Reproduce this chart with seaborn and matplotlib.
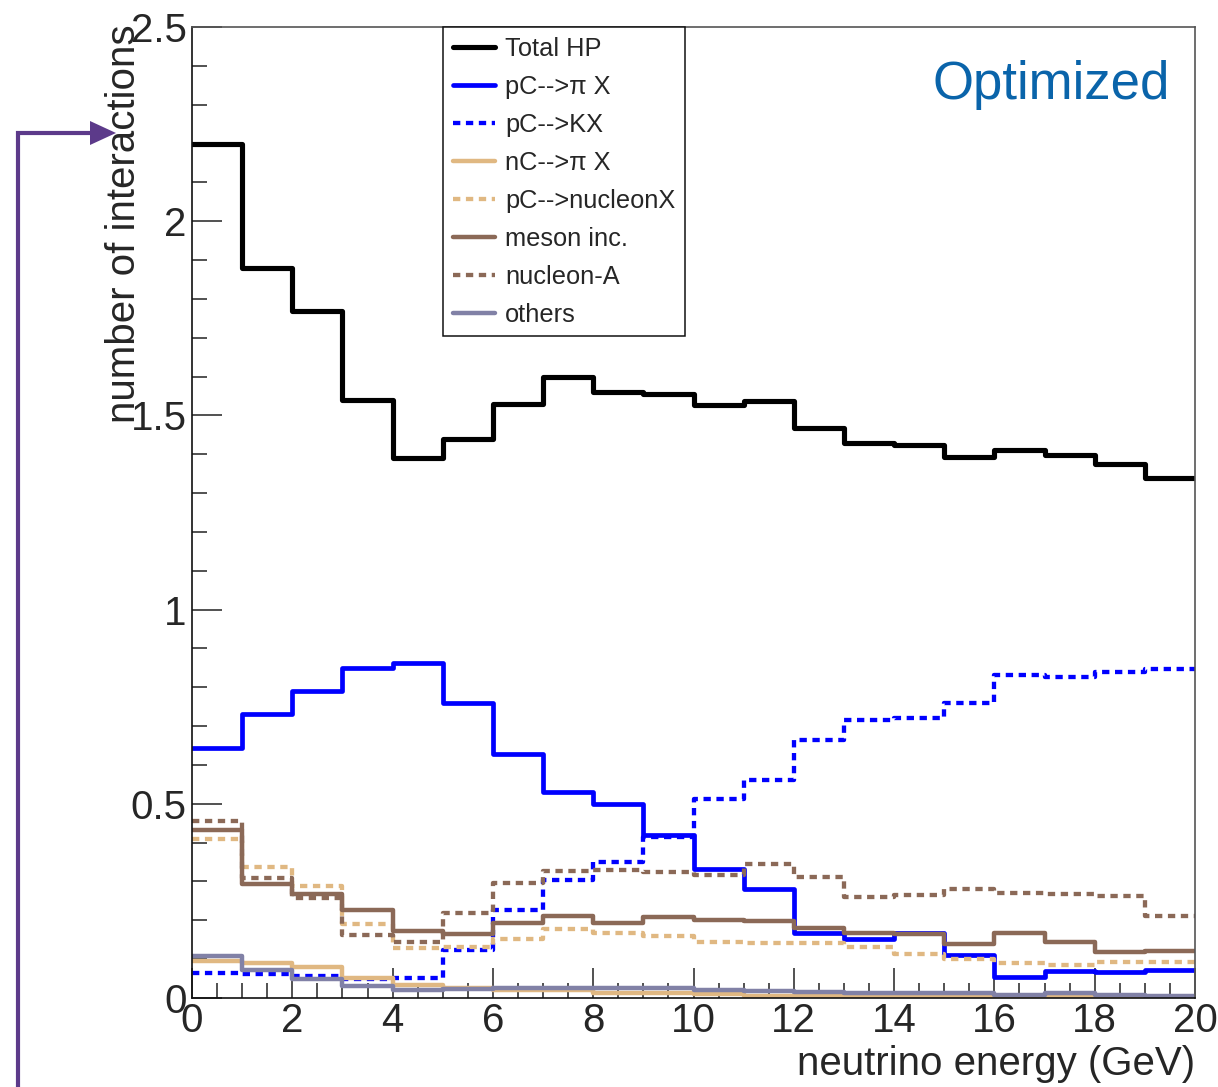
import numpy as np
import pandas as pd
import matplotlib
matplotlib.use("Agg")
import matplotlib.pyplot as plt
from matplotlib.lines import Line2D
from matplotlib.patches import Polygon
from matplotlib.ticker import MultipleLocator
import seaborn as sns

# ---------------- data ----------------
bin_edges = np.arange(0, 21, 1)          # neutrino energy bins (GeV)
series_names = ["Total HP", "pC-->\u03c0 X", "pC-->KX", "nC-->\u03c0 X",
                "pC-->nucleonX", "meson inc.", "nucleon-A", "others"]

total_hp = [2.20, 1.88, 1.77, 1.54, 1.39, 1.44, 1.53, 1.60, 1.56, 1.555,
            1.526, 1.538, 1.467, 1.430, 1.425, 1.392, 1.412, 1.397, 1.374, 1.338]
pc_pi = [0.643, 0.731, 0.790, 0.849, 0.862, 0.759, 0.628, 0.530, 0.499, 0.420,
         0.332, 0.281, 0.167, 0.152, 0.167, 0.111, 0.054, 0.069, 0.067, 0.072]
pc_k = [0.064, 0.062, 0.057, 0.049, 0.051, 0.123, 0.226, 0.304, 0.350, 0.415,
        0.512, 0.561, 0.664, 0.715, 0.720, 0.759, 0.831, 0.826, 0.839, 0.846]
nc_pi = [0.095, 0.090, 0.080, 0.052, 0.033, 0.026, 0.021, 0.021, 0.013, 0.012,
         0.010, 0.006, 0.005, 0.005, 0.004, 0.004, 0.003, 0.003, 0.003, 0.003]
pc_nucleon = [0.409, 0.337, 0.288, 0.190, 0.129, 0.131, 0.152, 0.177, 0.167, 0.160,
              0.144, 0.142, 0.141, 0.132, 0.113, 0.100, 0.090, 0.085, 0.093, 0.093]
meson_inc = [0.432, 0.293, 0.268, 0.226, 0.172, 0.164, 0.192, 0.211, 0.193, 0.209,
             0.202, 0.199, 0.179, 0.168, 0.164, 0.139, 0.168, 0.144, 0.119, 0.121]
nucleon_a = [0.456, 0.310, 0.257, 0.162, 0.145, 0.219, 0.295, 0.327, 0.329, 0.325,
             0.316, 0.345, 0.311, 0.260, 0.265, 0.281, 0.270, 0.267, 0.262, 0.211]
others = [0.108, 0.072, 0.049, 0.031, 0.021, 0.023, 0.026, 0.026, 0.026, 0.025,
          0.021, 0.019, 0.016, 0.013, 0.013, 0.013, 0.008, 0.012, 0.008, 0.006]

x_ticks = [0, 2, 4, 6, 8, 10, 12, 14, 16, 18, 20]
y_ticks = [0, 0.5, 1, 1.5, 2, 2.5]
y_tick_labels = ["0", "0.5", "1", "1.5", "2", "2.5"]

# ---------------- styles ----------------
BLACK = "#000000"
BLUE = "#0000ff"
TAN = "#e0b882"
BROWN = "#8b6957"
GREYP = "#8181a6"
DOT = (0, (1.7, 1.3))
styles = [
    dict(color=BLACK, lw=3.7, ls="-"),
    dict(color=BLUE, lw=3.4, ls="-"),
    dict(color=BLUE, lw=3.1, ls=DOT),
    dict(color=TAN, lw=3.2, ls="-"),
    dict(color=TAN, lw=3.1, ls=DOT),
    dict(color=BROWN, lw=3.2, ls="-"),
    dict(color=BROWN, lw=3.1, ls=DOT),
    dict(color=GREYP, lw=3.2, ls="-"),
]
values = [total_hp, pc_pi, pc_k, nc_pi, pc_nucleon, meson_inc, nucleon_a, others]

sns.set_style("white")
plt.rcParams["font.family"] = ["Liberation Sans", "DejaVu Sans"]

W, H = 1218, 1087
fig = plt.figure(figsize=(W / 100, H / 100), dpi=100)
ax = fig.add_axes([192 / W, 1 - 998 / H, (1195 - 192) / W, (998 - 27) / H])

centers = (bin_edges[:-1] + bin_edges[1:]) / 2
bin_w = float(bin_edges[1] - bin_edges[0])
handles = []
for name, vals, st in zip(series_names, values, styles):
    df = pd.DataFrame({"energy": centers, "n": vals})
    sns.histplot(data=df, x="energy", weights="n", binwidth=bin_w,
                 binrange=(float(bin_edges[0]), float(bin_edges[-1])),
                 element="step", fill=False, ax=ax,
                 color=st["color"], linewidth=st["lw"], linestyle=st["ls"])
    handles.append(Line2D([], [], color=st["color"], lw=st["lw"], ls=st["ls"]))

ax.set_xlim(0, 20)
ax.set_ylim(0, 2.5)
ax.set_xlabel("")
ax.set_ylabel("")
ax.set_xticks(x_ticks)
ax.set_xticklabels([str(t) for t in x_ticks])
ax.xaxis.set_minor_locator(MultipleLocator(0.5))
ax.set_yticks(y_ticks)
ax.set_yticklabels(y_tick_labels)
ax.yaxis.set_minor_locator(MultipleLocator(0.1))
ax.tick_params(which="both", direction="in", top=False, right=False,
               bottom=True, left=True,
               width=1.1, color="#222222", labelsize=29)
ax.tick_params(which="major", length=21.6)
ax.tick_params(which="minor", length=10.8)
ax.tick_params(axis="y", which="major", pad=4)
ax.tick_params(axis="x", which="major", pad=3)
for side in ["left", "bottom"]:
    ax.spines[side].set_color("#111111")
    ax.spines[side].set_linewidth(1.2)
for side in ["top", "right"]:
    ax.spines[side].set_color("#555555")
    ax.spines[side].set_linewidth(1.2)

leg = ax.legend(handles, series_names, loc="upper left",
                bbox_to_anchor=((443 - 192) / 1003, 1.0), fontsize=18.3,
                frameon=True, fancybox=False, handlelength=1.65,
                handletextpad=0.42, labelspacing=0.55, borderpad=0.38,
                borderaxespad=0.0)
leg.get_frame().set_edgecolor("#111111")
leg.get_frame().set_linewidth(1.1)
leg.get_frame().set_alpha(1)

ax.text(0.975, 0.926, "Optimized", transform=ax.transAxes, ha="right",
        va="baseline", fontsize=38, color="#0a64aa")

fig.text(124 / W, 1 - 24 / H, "number of interactions", rotation=90,
         ha="center", va="top", fontsize=29)
fig.text(1195 / W, 1 - 1064 / H, "neutrino energy (GeV)", ha="right",
         va="center", fontsize=29)

# purple annotation arrow at the left edge
PURPLE = "#5c3a8a"
fig.add_artist(Line2D([18 / W, 18 / W, 94 / W], [0, 1 - 133 / H, 1 - 133 / H],
                      transform=fig.transFigure, color=PURPLE, lw=3.0,
                      solid_joinstyle="miter"))
fig.add_artist(Polygon([[90 / W, 1 - 121 / H], [116 / W, 1 - 133 / H],
                        [90 / W, 1 - 145 / H]], closed=True,
                       transform=fig.transFigure, color=PURPLE, lw=0))

fig.savefig("out.png", dpi=100)
